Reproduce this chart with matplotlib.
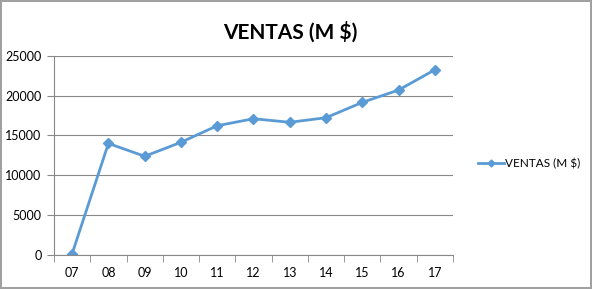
import numpy as np
import matplotlib.pyplot as plt

años = ['07', '08', '09', '10', '11', '12', '13', '14', '15', '16', '17']
ventas = [100, 14000, 12380, 14140, 16230, 17110, 16660, 17240, 19170, 20720, 23280]

plt.rcParams['font.family'] = ['Lato', 'DejaVu Sans']

fig = plt.figure(figsize=(5.92, 2.89), dpi=100)
fig.patch.set_edgecolor('#a0a0a0')
fig.patch.set_linewidth(1.5)
ax = fig.add_axes([0.0912, 0.119, 0.674, 0.687])

x = np.arange(len(años))
color = '#5b9bd5'
ax.plot(x, ventas, '-', color=color, lw=2, marker='D', ms=5, label='VENTAS (M $)')

ax.set_xlim(-0.5, len(años) - 0.5)
ax.set_ylim(0, 25000)
ax.set_yticks(np.arange(0, 25001, 5000))
ax.set_xticks(x)
ax.set_xticklabels(años)
ax.set_xticks(np.arange(-0.5, len(años), 1), minor=True)
ax.tick_params(axis='x', which='major', length=0, pad=9, labelsize=9)
ax.tick_params(axis='x', which='minor', length=5, color='#888888')
ax.tick_params(axis='y', length=5, color='#888888', labelsize=9, pad=4)
ax.yaxis.grid(True, color='#888888', lw=0.8)
ax.set_axisbelow(True)
for s in ['top', 'right']:
    ax.spines[s].set_visible(False)
for s in ['left', 'bottom']:
    ax.spines[s].set_color('#888888')

fig.text(0.49, 0.89, 'VENTAS (M $)', ha='center', va='center', fontsize=15, fontweight='bold')
fig.legend(loc='center left', bbox_to_anchor=(0.79, 0.435), frameon=False, fontsize=8.5,
           handlelength=2.2, handletextpad=0.1, markerscale=0.7)

fig.savefig('out.png', dpi=100, edgecolor=fig.get_edgecolor())
